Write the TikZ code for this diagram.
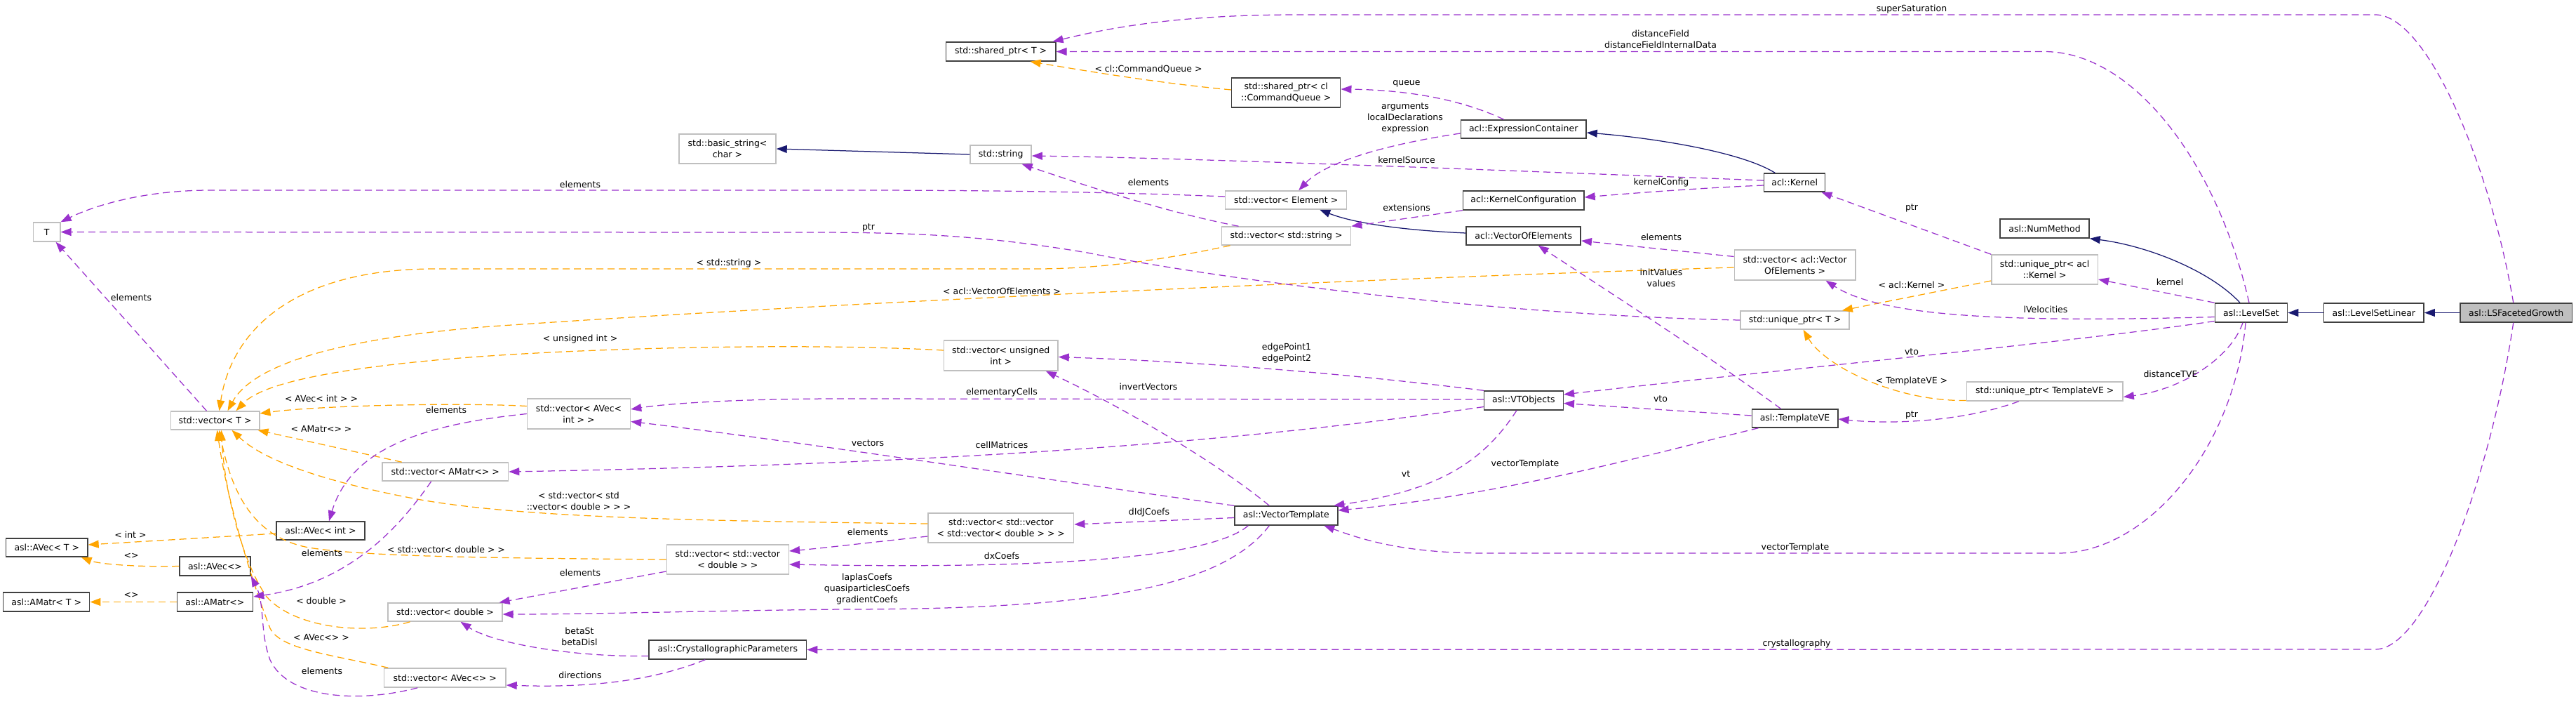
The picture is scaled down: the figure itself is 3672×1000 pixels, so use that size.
\documentclass[tikz,border=0pt]{standalone}
\usepackage{fontspec}
\setmainfont{DejaVu Sans}
\usetikzlibrary{arrows.meta}
\definecolor{purp}{HTML}{9A32CD}
\definecolor{orng}{HTML}{FFA500}
\definecolor{navy}{HTML}{191970}
\definecolor{bgray}{HTML}{BFBFBF}
\definecolor{dgray}{HTML}{404040}
\begin{document}
\begin{tikzpicture}[x=1pt,y=-1pt,font=\fontsize{12.5}{16}\selectfont,
  box/.style={rectangle,inner sep=0pt,align=center,fill=white,line width=1.5pt,minimum height=27pt},
  blk/.style={box,draw=dgray},
  gry/.style={box,draw=bgray},
  tipk/.style={-{Triangle[length=15pt,width=11pt]}},
  usel/.style={draw=purp,line width=1.25pt,dash pattern=on 10pt off 6pt,tipk},
  tmpl/.style={draw=orng,line width=1.25pt,dash pattern=on 10pt off 6pt,tipk},
  inh/.style={draw=navy,line width=1.25pt,tipk},
  lbl/.style={inner sep=0pt,align=center,text=black}]
\useasboundingbox (0,0) rectangle (3672,1000);

% nodes
\node[gry,minimum width=38.4pt] (T) at (66.6,330.5) {T};
\node[gry,minimum width=138pt,minimum height=42pt] (bstr) at (1037,212) {std::basic\_string<\\char >};
\node[blk,minimum width=156.6pt] (spT) at (1426.6,73.5) {std::shared\_ptr< T >};
\node[blk,minimum width=155pt,minimum height=42pt] (spcq) at (1833.2,132) {std::shared\_ptr< cl\\::CommandQueue >};
\node[gry,minimum width=87pt,minimum height=26pt] (str) at (1426.6,220) {std::string};
\node[gry,minimum width=173pt,minimum height=26pt] (vel) at (1833.2,285) {std::vector< Element >};
\node[gry,minimum width=184pt,minimum height=26pt] (vstr) at (1833.5,336) {std::vector< std::string >};
\node[gry,minimum width=162.5pt,minimum height=43pt] (vun) at (1426.8,506.5) {std::vector< unsigned\\int >};
\node[blk,minimum width=178.7pt,minimum height=26pt] (expr) at (2171.7,184) {acl::ExpressionContainer};
\node[blk,minimum width=172.4pt] (kconf) at (2171.7,285.5) {acl::KernelConfiguration};
\node[blk,minimum width=163pt,minimum height=26pt] (voe) at (2171.7,336) {acl::VectorOfElements};
\node[blk,minimum width=87pt,minimum height=26pt] (kern) at (2558.2,260) {acl::Kernel};
\node[blk,minimum width=127pt] (nm) at (2914.5,325.5) {asl::NumMethod};
\node[gry,minimum width=172.4pt,minimum height=43pt] (vaVOE) at (2558.6,377.5) {std::vector< acl::Vector\\OfElements >};
\node[gry,minimum width=151.4pt,minimum height=42pt] (upK) at (2914.6,384) {std::unique\_ptr< acl\\::Kernel >};
\node[gry,minimum width=155pt,minimum height=26pt] (upT) at (2558.6,456) {std::unique\_ptr< T >};
\node[blk,minimum width=103.3pt] (ls) at (3209,445.5) {asl::LevelSet};
\node[blk,minimum width=142.7pt] (lsl) at (3383.8,445.5) {asl::LevelSetLinear};
\node[blk,fill=bgray,minimum width=159.4pt] (lsfg) at (3586.7,445.5) {asl::LSFacetedGrowth};
\node[gry,minimum width=126.5pt,minimum height=26pt] (vT) at (306.5,599) {std::vector< T >};
\node[blk,minimum width=125.7pt,minimum height=26pt] (AVi) at (457,756) {asl::AVec< int >};
\node[blk,minimum width=116.3pt,minimum height=26pt] (AVT) at (66.8,780) {asl::AVec< T >};
\node[blk,minimum width=101.2pt] (AV) at (306.5,806.5) {asl::AVec<>};
\node[blk,minimum width=123pt] (AMT) at (66.2,857.5) {asl::AMatr< T >};
\node[blk,minimum width=108.3pt] (AM) at (306.4,857.5) {asl::AMatr<>};
\node[gry,minimum width=179.7pt,minimum height=26pt] (vAM) at (634.7,672) {std::vector< AMatr<> >};
\node[gry,minimum width=147pt,minimum height=43pt] (vAVi) at (825,589.5) {std::vector< AVec<\\int > >};
\node[gry,minimum width=162.7pt,minimum height=26pt] (vdbl) at (634.5,872) {std::vector< double >};
\node[gry,minimum width=173.4pt] (vAV) at (634.3,965.5) {std::vector< AVec<> >};
\node[gry,minimum width=174pt,minimum height=42pt] (vvd) at (1037.3,797) {std::vector< std::vector\\< double > >};
\node[blk,minimum width=224.6pt] (cp) at (1037.3,925.5) {asl::CrystallographicParameters};
\node[gry,minimum width=207.6pt,minimum height=42pt] (vvv) at (1426.8,752) {std::vector< std::vector\\< std::vector< double > > >};
\node[blk,minimum width=147pt] (vtpl) at (1833.3,734.5) {asl::VectorTemplate};
\node[blk,minimum width=112.7pt] (vto) at (2171.9,570.5) {asl::VTObjects};
\node[blk,minimum width=122.5pt,minimum height=26pt] (tve) at (2558.5,596) {asl::TemplateVE};
\node[gry,minimum width=222.8pt] (upTVE) at (2914.7,557.5) {std::unique\_ptr< TemplateVE >};

% inheritance
\draw[inh] (str.west) -- (bstr.east);
\draw[inh] ([xshift=-28pt]kern.north) .. controls (2480,215) and (2350,196) .. ([yshift=-5pt]expr.east);
\draw[inh] ([yshift=4pt]voe.west) .. controls (2000,328) and (1930,318) .. ([xshift=48pt]vel.south);
\draw[inh] ([xshift=-16pt]ls.north) .. controls (3150,385) and (3060,350) .. (nm.south east);
\draw[inh] (lsl.west) -- (ls.east);
\draw[inh] (lsfg.west) -- (lsl.east);

% template instances
\draw[tmpl] ([yshift=4pt]spcq.west) .. controls (1650,118) and (1560,103) .. ([xshift=42pt]spT.south);
\draw[tmpl] ([xshift=-80pt]vstr.south) .. controls (1650,372) and (1560,383) .. (1477,383) -- (620,383) .. controls (420,383) and (330,470) .. ([xshift=6pt]vT.north);
\draw[tmpl] ([yshift=-3.5pt]vaVOE.west) .. controls (2000,395) and (1200,430) .. (700,465) .. controls (480,482) and (360,520) .. ([xshift=18pt]vT.north);
\draw[tmpl] ([yshift=7.5pt]vun.west) .. controls (1150,488) and (800,495) .. (600,515) .. controls (450,530) and (370,550) .. ([xshift=30pt]vT.north);
\draw[tmpl] ([yshift=11pt]vAVi.west) .. controls (650,573) and (450,578) .. ([yshift=10pt]vT.east);
\draw[tmpl] ([xshift=-62pt]vAM.north) -- ([xshift=-3pt]vT.south east);
\draw[tmpl] ([yshift=6pt]vvv.west) .. controls (1000,742) and (750,738) .. (600,712) .. controls (480,690) and (380,660) .. ([xshift=24pt]vT.south);
\draw[tmpl] (vvd.west) .. controls (700,795) and (520,793) .. (440,780) .. controls (360,765) and (330,700) .. ([xshift=6pt]vT.south);
\draw[tmpl] ([xshift=-50pt]vdbl.south) .. controls (520,905) and (420,895) .. (380,850) .. controls (345,800) and (320,700) .. ([xshift=9pt]vT.south);
\draw[tmpl] ([xshift=-81pt]vAV.north) .. controls (470,932) and (400,925) .. (385,895) .. controls (360,830) and (325,720) .. ([xshift=3pt]vT.south);
\draw[tmpl] ([yshift=-4pt]AVi.west) -- ([yshift=4pt]AVT.east);
\draw[tmpl] (AV.west) .. controls (190,808) and (140,803) .. ([xshift=-10pt]AVT.south east);
\draw[tmpl] (AM.west) -- (AMT.east);
\draw[tmpl] ([yshift=-16pt]upK.west) -- ([xshift=-11pt]upT.north east);
\draw[tmpl] ([yshift=-13pt]upTVE.west) .. controls (2700,572) and (2600,520) .. ([xshift=12pt]upT.south);

% usage
\draw[usel] ([xshift=-4pt]lsfg.north) .. controls (3550,237) and (3460,21) .. (3386,21) -- (1850,21) .. controls (1700,21) and (1600,35) .. ([xshift=-5pt]spT.north east);
\draw[usel] ([xshift=-3pt]ls.north) .. controls (3160,230) and (3040,73.5) .. (2914,73.5) -- (spT.east);
\draw[usel] ([xshift=-28pt]expr.north) .. controls (2080,140) and (2000,128) .. ([yshift=5pt]spcq.east);
\draw[usel] ([yshift=-6pt]expr.west) .. controls (1980,205) and (1890,230) .. ([xshift=18pt]vel.north);
\draw[usel] ([yshift=3pt]kern.west) .. controls (2200,245) and (1700,225) .. ([yshift=-2pt]str.east);
\draw[usel] ([yshift=-4pt]kern.west) .. controls (2420,268) and (2330,275) .. ([yshift=4.5pt]kconf.east);
\draw[usel] ([yshift=5pt]vel.west) .. controls (1550,272) and (1350,271) .. (1200,271) -- (300,271) .. controls (200,271) and (130,295) .. (T.north east);
\draw[usel] ([xshift=-68pt]vstr.north) .. controls (1650,300) and (1520,255) .. ([xshift=30pt]str.south);
\draw[usel] (kconf.south west) -- (vstr.north east);
\draw[usel] (upT.west) .. controls (2150,450) and (1750,400) .. (1550,360) .. controls (1400,335) and (1300,331) .. (1150,331) -- (T.east);
\draw[usel] (upK.north west) -- ([xshift=-6pt]kern.south east);
\draw[usel] ([yshift=12pt]vaVOE.west) -- ([yshift=-7pt]voe.east);
\draw[usel] ([xshift=-20pt]tve.north) .. controls (2440,510) and (2300,420) .. ([xshift=21pt]voe.south);
\draw[usel] ([yshift=-6pt]ls.west) .. controls (2850,460) and (2680,450) .. ([xshift=44pt]vaVOE.south);
\draw[usel] (ls.north west) -- ([yshift=-14pt]upK.east);
\draw[usel] ([yshift=-12pt]ls.west) .. controls (2950,488) and (2550,525) .. ([yshift=8.5pt]vto.east);
\draw[usel] ([yshift=4pt]tve.west) -- ([yshift=-4pt]vto.east);
\draw[usel] ([xshift=-37pt]upTVE.south) .. controls (2800,600) and (2700,605) .. ([yshift=-1pt]tve.east);
\draw[usel] ([xshift=-12pt]ls.south) .. controls (3180,510) and (3110,555) .. ([yshift=-8pt]upTVE.east);
\draw[usel] ([xshift=-8pt]ls.south) .. controls (3185,640) and (3060,788) .. (2934,788) -- (2116,788) .. controls (2000,788) and (1940,768) .. ([xshift=54pt]vtpl.south);
\draw[usel] ([xshift=-52pt]tve.south) .. controls (2380,640) and (2150,705) .. ([yshift=7.5pt]vtpl.east);
\draw[usel] ([xshift=-10pt]vto.south) .. controls (2110,665) and (2040,700) .. ([xshift=68pt]vtpl.north);
\draw[usel] (vto.north west) .. controls (1900,530) and (1700,515) .. ([yshift=-2pt]vun.east);
\draw[usel] ([yshift=1.5pt]vto.west) -- (1200,568) .. controls (1050,568) and (950,575) .. ([yshift=6.5pt]vAVi.east);
\draw[usel] ([yshift=-9pt]vto.west) .. controls (1800,625) and (1400,660) .. (vAM.east);
\draw[usel] (vtpl.north west) .. controls (1500,685) and (1150,630) .. ([yshift=-11pt]vAVi.east);
\draw[usel] ([xshift=-24pt]vtpl.north) .. controls (1730,655) and (1590,575) .. ([xshift=64pt]vun.south);
\draw[usel] ([yshift=-3pt]vtpl.west) -- ([yshift=5pt]vvv.east);
\draw[usel] ([xshift=-54pt]vtpl.south) .. controls (1720,800) and (1450,810) .. ([yshift=-7pt]vvd.east);
\draw[usel] ([xshift=-24pt]vtpl.south) .. controls (1740,840) and (1550,868) .. (1200,868) .. controls (1000,870) and (850,875) .. ([yshift=-3pt]vdbl.east);
\draw[usel] ([yshift=-17pt]vvd.west) -- ([xshift=-5pt]vdbl.north east);
\draw[usel] ([yshift=-12pt]vvv.west) .. controls (1220,775) and (1180,780) .. ([yshift=12pt]vvd.east);
\draw[usel] ([yshift=-9pt]cp.west) .. controls (810,936) and (700,915) .. ([xshift=22pt]vdbl.south);
\draw[usel] ([xshift=-32pt]cp.south) .. controls (930,970) and (840,980) .. ([yshift=-10.5pt]vAV.east);
\draw[usel] ([xshift=-4pt]lsfg.south) .. controls (3550,680) and (3460,925) .. (3386,925) -- (cp.east);
\draw[usel] ([xshift=-12pt]vT.north) -- ([xshift=-7pt]T.south east);
\draw[usel] (vAVi.west) .. controls (600,605) and (500,640) .. ([xshift=12pt]AVi.north);
\draw[usel] ([xshift=-20pt]vAM.south) .. controls (570,750) and (500,830) .. ([yshift=7.5pt]AM.east);
\draw[usel] ([xshift=-39pt]vAV.south) .. controls (510,1002) and (410,995) .. (385,940) .. controls (370,900) and (378,860) .. (AV.south east);

% labels
\node[lbl] (l1) at (1637,99) {< cl::CommandQueue >};
\node[lbl] (l2) at (1039,375) {< std::string >};
\node[lbl] (l3) at (1428,415) {< acl::VectorOfElements >};
\node[lbl] (l4) at (827,483) {< unsigned int >};
\node[lbl] (l5) at (458,568) {< AVec< int > >};
\node[lbl] (l6) at (458,611) {< AMatr<> >};
\node[lbl] (l7) at (825,714) {< std::vector< std\\::vector< double > > >};
\node[lbl] (l8) at (636,783) {< std::vector< double > >};
\node[lbl] (l9) at (458,856) {< double >};
\node[lbl] (l10) at (458,908) {< AVec<> >};
\node[lbl] (l11) at (186,762) {< int >};
\node[lbl] (l12) at (187,792) {<>};
\node[lbl] (l13) at (187,848) {<>};
\node[lbl] (l14) at (2725,406) {< acl::Kernel >};
\node[lbl] (l15) at (2725,543) {< TemplateVE >};
\node[lbl] (l16) at (2725,13) {superSaturation};
\node[lbl] (l17) at (2367,56) {distanceField\\distanceFieldInternalData};
\node[lbl] (l18) at (2005,119) {queue};
\node[lbl] (l19) at (2003,168) {arguments\\localDeclarations\\expression};
\node[lbl] (l20) at (2005,228) {kernelSource};
\node[lbl] (l21) at (2368,260) {kernelConfig};
\node[lbl] (l22) at (827,263) {elements};
\node[lbl] (l23) at (1637,260) {elements};
\node[lbl] (l24) at (2005,296) {extensions};
\node[lbl] (l25) at (1238,324) {ptr};
\node[lbl] (l26) at (2725,296) {ptr};
\node[lbl] (l27) at (2368,338) {elements};
\node[lbl] (l28) at (2368,396) {initValues\\values};
\node[lbl] (l29) at (2916,441) {lVelocities};
\node[lbl] (l30) at (3093,402) {kernel};
\node[lbl] (l31) at (2725,501) {vto};
\node[lbl] (l32) at (2367,568) {vto};
\node[lbl] (l33) at (2725,591) {ptr};
\node[lbl] (l34) at (3094,533) {distanceTVE};
\node[lbl] (l35) at (2559,780) {vectorTemplate};
\node[lbl] (l36) at (2174,661) {vectorTemplate};
\node[lbl] (l37) at (2004,675) {vt};
\node[lbl] (l38) at (1834,503) {edgePoint1\\edgePoint2};
\node[lbl] (l39) at (1428,559) {elementaryCells};
\node[lbl] (l40) at (1428,634) {cellMatrices};
\node[lbl] (l41) at (1237,631) {vectors};
\node[lbl] (l42) at (1637,551) {invertVectors};
\node[lbl] (l43) at (1638,730) {dIdJCoefs};
\node[lbl] (l44) at (1428,792) {dxCoefs};
\node[lbl] (l45) at (1236,839) {laplasCoefs\\quasiparticlesCoefs\\gradientCoefs};
\node[lbl] (l46) at (827,816) {elements};
\node[lbl] (l47) at (1237,758) {elements};
\node[lbl] (l48) at (826,907) {betaSt\\betaDisl};
\node[lbl] (l49) at (827,962) {directions};
\node[lbl] (l50) at (2561,917) {crystallography};
\node[lbl] (l51) at (187,424) {elements};
\node[lbl] (l52) at (636,584) {elements};
\node[lbl] (l53) at (459,788) {elements};
\node[lbl] (l54) at (459,956) {elements};
\end{tikzpicture}
\end{document}
